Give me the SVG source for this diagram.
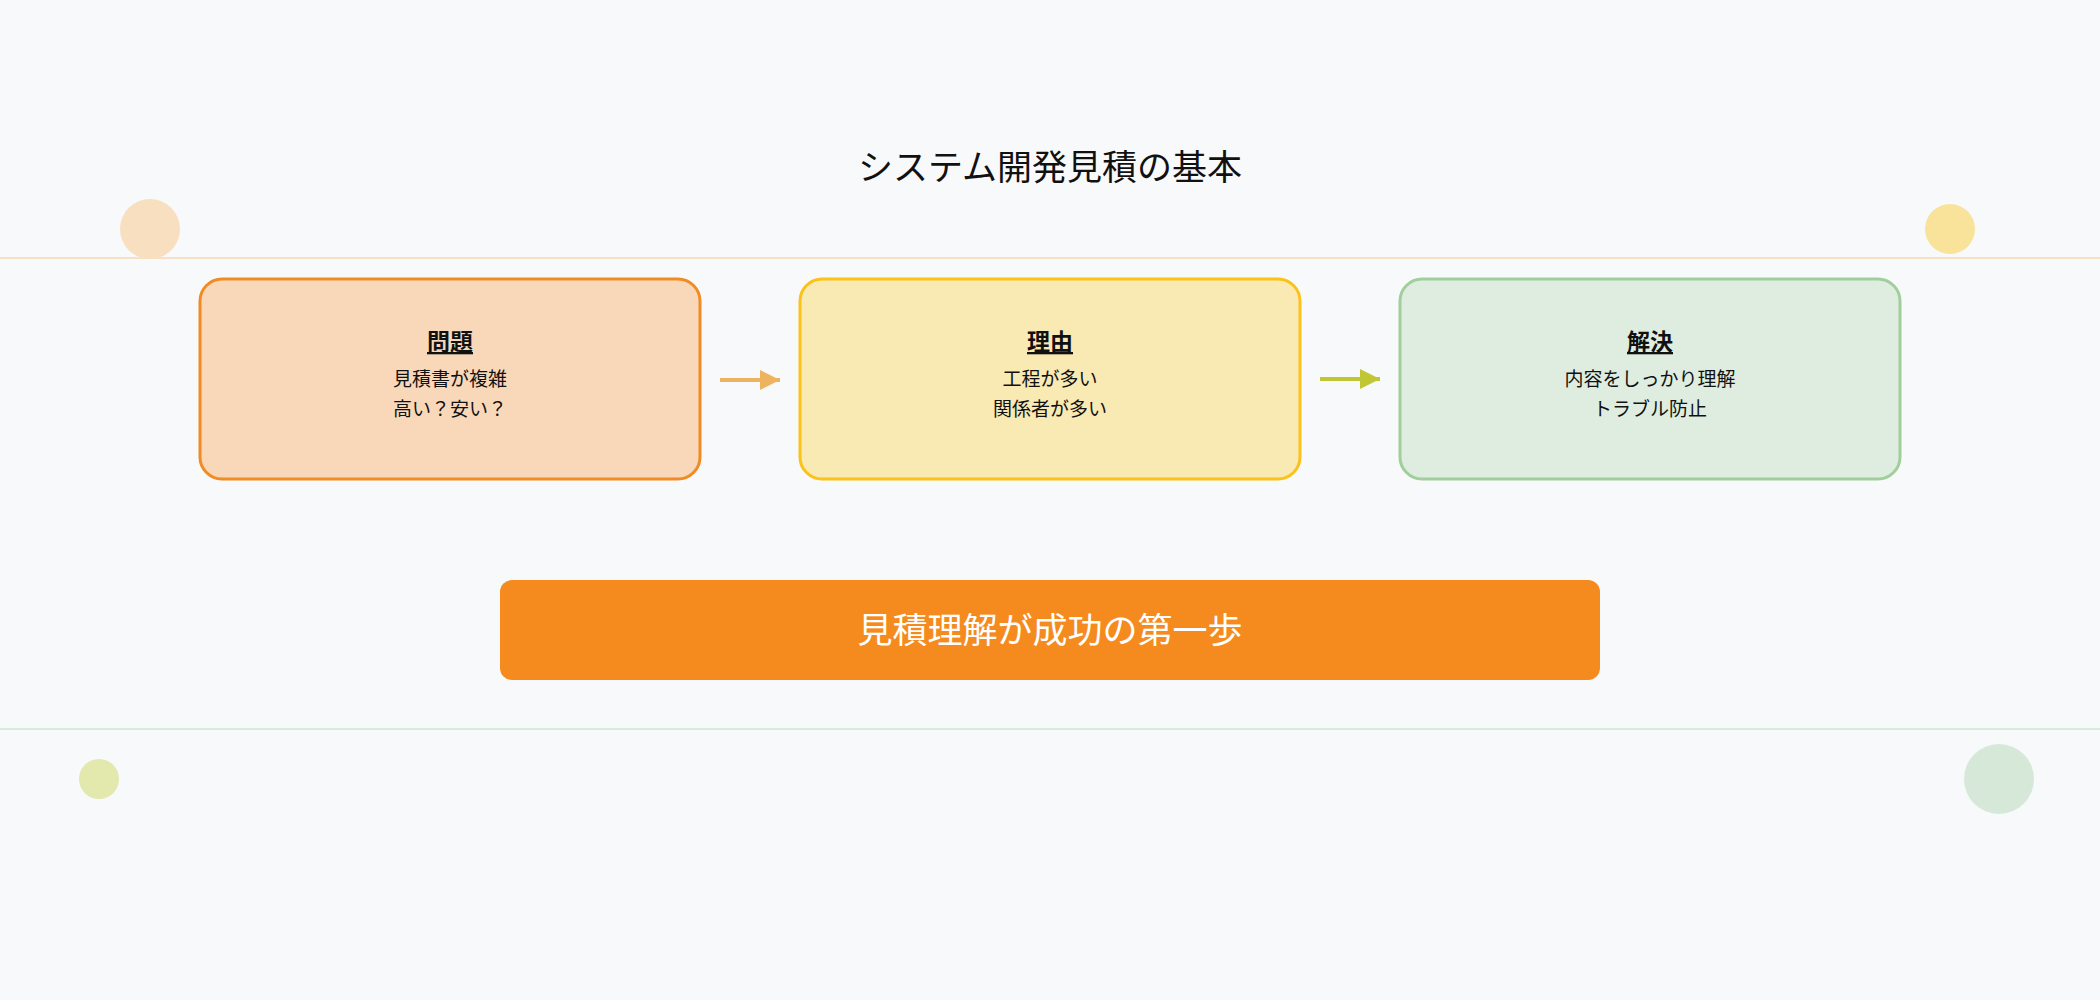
<svg xmlns="http://www.w3.org/2000/svg" width="2100" height="1000" viewBox="0 0 2100 1000">
<style>
text{font-family:"Noto Sans CJK JP","Noto Sans",sans-serif;text-anchor:middle;fill:#111}
.h{font-size:23px;font-weight:bold;text-decoration:underline}
.t{font-size:19px}
.box{stroke-width:3}
</style>
<defs>
<marker id="a1" viewBox="0 0 10 10" refX="10" refY="5" markerWidth="10" markerHeight="5" markerUnits="strokeWidth" orient="auto"><path d="M0,0L10,5L0,10z" fill="#eeb35f"/></marker>
<marker id="a2" viewBox="0 0 10 10" refX="10" refY="5" markerWidth="10" markerHeight="5" markerUnits="strokeWidth" orient="auto"><path d="M0,0L10,5L0,10z" fill="#c0c634"/></marker>
</defs>
<rect width="2100" height="1000" fill="#f8f9fb"/>
<line x1="0" y1="258" x2="2100" y2="258" stroke="#f8e0c4" stroke-width="2"/>
<line x1="0" y1="729" x2="2100" y2="729" stroke="#d8ecd6" stroke-width="2"/>
<circle cx="150" cy="229" r="30" fill="#f8dfc0"/>
<circle cx="1950" cy="229" r="25" fill="#f9e29a"/>
<circle cx="99" cy="779" r="20" fill="#e3e8ad"/>
<circle cx="1999" cy="779" r="35" fill="#d6e9d8"/>
<text x="1050" y="180" style="font-size:35px">システム開発見積の基本</text>
<g id="connectors">
<line x1="720" y1="380" x2="780" y2="380" stroke="#eeb35f" stroke-width="4" marker-end="url(#a1)"/>
<line x1="1320" y1="379" x2="1380" y2="379" stroke="#c0c634" stroke-width="4" marker-end="url(#a2)"/>
</g>
<g id="problem">
<rect class="box" x="200" y="279" width="500" height="200" rx="22" fill="#f8d8b9" stroke="#f18c24"/>
<text class="h" x="450" y="350">問題</text>
<text class="t" x="450" y="386">見積書が複雑</text>
<text class="t" x="450" y="416">高い？安い？</text>
</g>
<g id="reason">
<rect class="box" x="800" y="279" width="500" height="200" rx="22" fill="#f9e9b3" stroke="#fbc21a"/>
<text class="h" x="1050" y="350">理由</text>
<text class="t" x="1050" y="386">工程が多い</text>
<text class="t" x="1050" y="416">関係者が多い</text>
</g>
<g id="solution">
<rect class="box" x="1400" y="279" width="500" height="200" rx="22" fill="#deede0" stroke="#a1cf9c"/>
<text class="h" x="1650" y="350">解決</text>
<text class="t" x="1650" y="386">内容をしっかり理解</text>
<text class="t" x="1650" y="416">トラブル防止</text>
</g>
<g id="banner">
<rect x="500" y="580" width="1100" height="100" rx="12" fill="#f58b1f"/>
<text x="1050" y="643" style="font-size:35px;fill:#fff">見積理解が成功の第一歩</text>
</g>
</svg>
